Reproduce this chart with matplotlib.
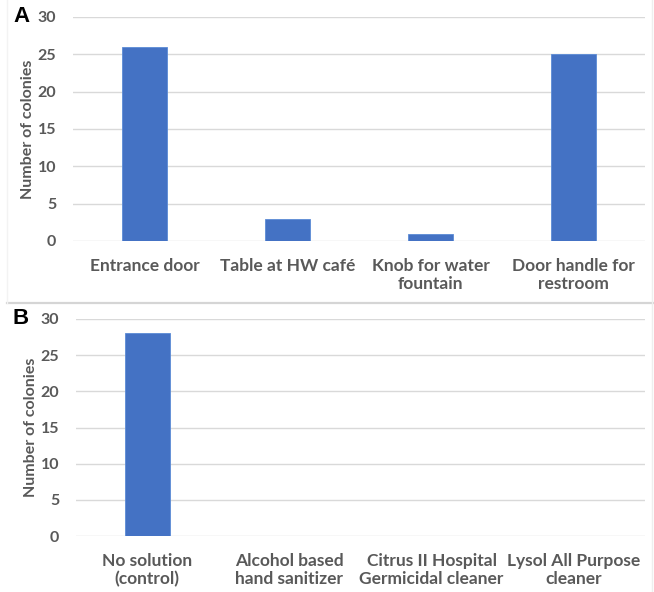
import matplotlib.pyplot as plt
from matplotlib.lines import Line2D

# --Data--
sitesA = ["Entrance door", "Table at HW café", "Knob for water\nfountain", "Door handle for\nrestroom"]
coloniesA = [26, 3, 1, 25]

sitesB = ["No solution\n(control)", "Alcohol based\nhand sanitizer", "Citrus II Hospital\nGermicidal cleaner", "Lysol All Purpose\ncleaner"]
coloniesB = [28, 0, 0, 0]

yticks = [0, 5, 10, 15, 20, 25, 30]

barColor = "#4472C4"
textColor = "#595959"
gridColor = "#D9D9D9"

plt.rcParams['font.family'] = ['Lato', 'DejaVu Sans']

fig = plt.figure(figsize=(6.54, 5.92), dpi=100)
W, H = 654.0, 592.0


def panel(rect, labels, values, letter, letterX):
    ax = fig.add_axes(rect)
    ax.bar(range(len(values)), values, width=0.315, color=barColor, edgecolor="#5B8BD6", linewidth=0.6, zorder=3)
    ax.set_xlim(-0.5, len(values) - 0.5)
    ax.set_ylim(0, 30)
    ax.set_yticks(yticks)
    ax.set_xticks(range(len(labels)))
    ax.set_xticklabels(labels, fontsize=12.5, color=textColor, fontweight='bold', linespacing=1.2)
    ax.tick_params(axis='y', labelsize=11.5, labelcolor=textColor, length=0, pad=12)
    ax.tick_params(axis='x', length=0, pad=12)
    for lbl in ax.get_yticklabels():
        lbl.set_fontweight('bold')
    ax.grid(axis='y', color=gridColor, linewidth=1.0, zorder=0)
    for s in ax.spines.values():
        s.set_visible(False)
    ax.set_ylabel("Number of colonies", fontsize=11.5, color=textColor, fontweight='bold', labelpad=2)
    ax.text(letterX, 1.0, letter, transform=ax.transAxes, fontsize=16, fontweight='bold',
            color='black', ha='left', va='center', family='Liberation Sans')
    return ax


axA = panel([73 / W, 1 - 241 / H, (645 - 73) / W, (241 - 17) / H], sitesA, coloniesA, "A",
            -(73 - 13) / (645 - 73))
axB = panel([76 / W, 1 - 536 / H, (645 - 76) / W, (536 - 319) / H], sitesB, coloniesB, "B",
            -(76 - 13) / (645 - 76))

# panel frame lines
fig.add_artist(Line2D([7 / W, 1], [1 - 302.5 / H, 1 - 302.5 / H], color="#D5D5D5", linewidth=1.6))
fig.add_artist(Line2D([652 / W, 652 / W], [0, 1], color="#EEEEEE", linewidth=1.0))
fig.add_artist(Line2D([7 / W, 7 / W], [1 - 302.5 / H, 1], color="#F3F3F3", linewidth=1.0))

fig.savefig("out.png", dpi=100, facecolor="white")
